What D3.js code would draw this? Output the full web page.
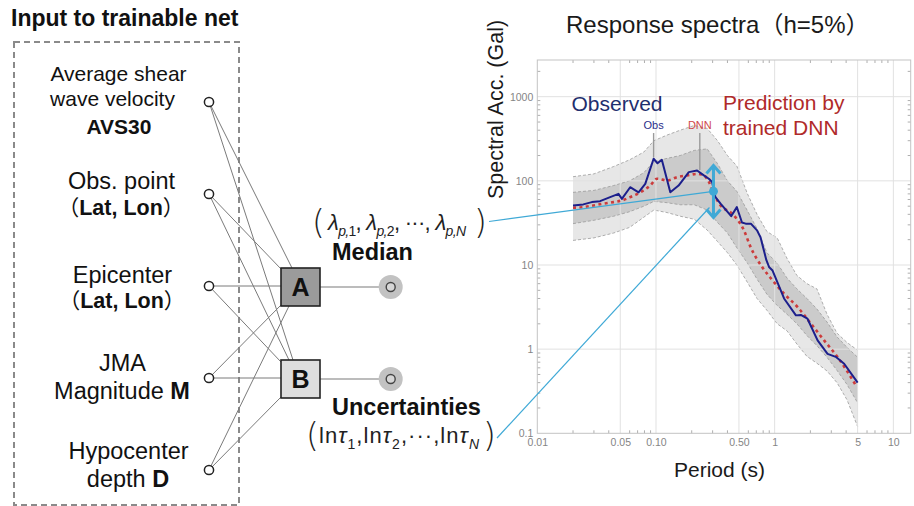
<!DOCTYPE html>
<html>
<head>
<meta charset="utf-8">
<script src="https://cdn.jsdelivr.net/npm/d3@7"></script>
<style>
  body { margin: 0; background: #fff; }
  svg { display: block; font-family: "Liberation Sans", Arial, sans-serif; }
</style>
</head>
<body>
<svg id="fig" width="914" height="506"></svg>
<script>
// ---- diagram data ----
var inputNames = ["avs", "obs", "epi", "jma", "hypo"];
var nodeNames = ["A", "B"];
// which input feeds which box (every input feeds both)
var links = [
  ["avs", "A"], ["avs", "B"], ["obs", "A"], ["obs", "B"], ["epi", "A"],
  ["epi", "B"], ["jma", "A"], ["jma", "B"], ["hypo", "A"], ["hypo", "B"]
];

// ---- chart data (period in s, spectral acc. in Gal) ----
var obsPeriod = [0.02, 0.0244, 0.0288, 0.0338, 0.0411, 0.0483, 0.0516, 0.0606, 0.0713, 0.0812,
  0.0955, 0.103, 0.112, 0.132, 0.155, 0.189, 0.222, 0.253, 0.279, 0.297, 0.317, 0.35, 0.43,
  0.48, 0.53, 0.57, 0.63, 0.71, 0.76, 0.85, 0.9, 0.96, 1.2, 1.51, 1.66, 1.89, 2.3, 2.79,
  3.27, 3.85, 5.0];
var obsSA = [51, 52.5, 55.9, 57.4, 64, 70, 61, 84, 73, 92,
  183, 162, 178, 73, 88, 127, 133, 116, 106, 97, 64, 53.5, 38,
  48.7, 32, 31, 31, 25.8, 21.4, 11.5, 9.4, 8.6, 4.0, 2.52, 2.55, 2.3, 1.27, 0.88,
  0.81, 0.67, 0.40];

var dnnPeriod = [0.02, 0.0244, 0.0297, 0.0361, 0.0438, 0.0516, 0.0606, 0.0736, 0.0895, 0.102,
  0.124, 0.151, 0.183, 0.222, 0.253, 0.279, 0.307, 0.35, 0.439, 0.551, 0.627, 0.787, 0.957,
  1.2, 1.56, 2.02, 2.61, 3.39, 4.84];
var dnnSA = [48, 48.7, 51, 53.5, 55.9, 58.5, 64, 73, 88, 106,
  101, 111, 116, 121, 116, 97, 70, 51, 40.6, 25.8, 16.3, 9.4, 6.6,
  4.56, 3.16, 2.01, 1.27, 0.805, 0.37];

var bandPeriod = [0.02, 0.03, 0.044, 0.06, 0.079, 0.096, 0.124, 0.16, 0.21, 0.27, 0.33, 0.4,
  0.48, 0.59, 0.71, 0.86, 1.05, 1.27, 1.54, 1.87, 2.27, 2.76, 3.35, 4.07, 5];
var upper2 = [112, 121, 148, 178, 220, 300, 350, 400, 455, 420, 300, 200,
  150, 70, 40, 25, 21, 12, 7.5, 6, 5.2, 2.6, 1.55, 1.2, 0.97];
var upper1 = [73, 77, 88, 100, 125, 170, 185, 200, 230, 240, 160, 100,
  75, 44, 27, 14, 10.5, 7, 5.2, 4.0, 3.0, 2.1, 1.4, 1.05, 0.8];
var lower1 = [31, 34, 38, 43, 50, 57, 55, 52, 52, 45, 32, 24,
  16, 10.5, 6.8, 4.5, 3.3, 2.6, 2.0, 1.45, 1.1, 0.8, 0.56, 0.38, 0.23];
var lower2 = [19.6, 21, 24, 28, 37, 45, 42, 38, 35, 26, 19, 14,
  10, 6.2, 4.0, 2.9, 2.0, 1.65, 1.15, 0.82, 0.68, 0.55, 0.4, 0.25, 0.12];

var markerLabels = ["Obs", "DNN"];
var markerPeriod = [0.0955, 0.234];
var markerTopSA = [370, 370];
var markerBottomSA = [190, 135];

var xTickValues = [0.01, 0.05, 0.1, 0.5, 1, 5, 10];
var xTickLabels = ["0.01", "0.05", "0.10", "0.50", "1", "5", "10"];
var yTickValues = [0.1, 1, 10, 100, 1000];
var yTickLabels = ["0.1", "1", "10", "100", "1000"];
var xGrid = [0.05, 0.1, 0.5, 1, 5, 10];
var yGrid = [1, 10, 100, 1000];

// highlighted period with its median and spread
var focusPeriod = 0.305;
var focusSA = [36.7, 75, 152];

var svg = d3.select("#fig");
var cyan = "#3fa9d6";

// ================= left diagram =================
var diag = svg.append("g");

diag.append("text")
  .attr("x", 11).attr("y", 26)
  .attr("font-size", "23px").attr("font-weight", "bold")
  .attr("fill", "#111")
  .text("Input to trainable net");

diag.append("rect")
  .attr("x", 14).attr("y", 42).attr("width", 225).attr("height", 463)
  .attr("fill", "none").attr("stroke", "#8a8a8a")
  .attr("stroke-width", 2).attr("stroke-dasharray", "6,4");

var yIn = d3.scalePoint().domain(inputNames).range([102, 470]);
var xIn = 209;
var boxY = {A: 268, B: 360};
var boxX = 281, boxW = 39, boxH = 38;
var outX = 390.7;

// end point on the boxes for each link
var linkEnd = {
  "avs-A": [292, 268], "avs-B": [293, 360],
  "obs-A": [281, 269], "obs-B": [289, 360],
  "epi-A": [281, 286], "epi-B": [281, 362],
  "jma-A": [281, 305], "jma-B": [281, 378],
  "hypo-A": [289, 306], "hypo-B": [281, 397]
};

diag.selectAll(".link")
  .data(links)
  .enter().append("line")
    .attr("class", "link")
    .attr("x1", xIn).attr("y1", function(d) { return yIn(d[0]); })
    .attr("x2", function(d) { return linkEnd[d[0] + "-" + d[1]][0]; })
    .attr("y2", function(d) { return linkEnd[d[0] + "-" + d[1]][1]; })
    .attr("stroke", "#7a7a7a").attr("stroke-width", 1);

// box -> output lines
diag.selectAll(".outlink")
  .data(nodeNames)
  .enter().append("line")
    .attr("x1", boxX + boxW).attr("x2", outX)
    .attr("y1", function(d) { return boxY[d] + boxH / 2; })
    .attr("y2", function(d) { return boxY[d] + boxH / 2; })
    .attr("stroke", "#7a7a7a").attr("stroke-width", 1.2);

diag.selectAll(".box")
  .data(nodeNames)
  .enter().append("rect")
    .attr("x", boxX).attr("y", function(d) { return boxY[d]; })
    .attr("width", boxW).attr("height", boxH)
    .attr("fill", function(d) { return d == "A" ? "#9b9b9b" : "#dedede"; })
    .attr("stroke", "#222").attr("stroke-width", 1.6);

diag.selectAll(".boxlabel")
  .data(nodeNames)
  .enter().append("text")
    .attr("x", boxX + boxW / 2).attr("y", function(d) { return boxY[d] + 28; })
    .attr("text-anchor", "middle")
    .attr("font-size", "25px").attr("font-weight", "bold").attr("fill", "#111")
    .text(function(d) { return d; });

// output nodes
diag.selectAll(".halo")
  .data(nodeNames)
  .enter().append("circle")
    .attr("cx", outX).attr("cy", function(d) { return boxY[d] + boxH / 2; })
    .attr("r", 12).attr("fill", "#c2c2c2");
diag.selectAll(".outnode")
  .data(nodeNames)
  .enter().append("circle")
    .attr("cx", outX).attr("cy", function(d) { return boxY[d] + boxH / 2; })
    .attr("r", 4.5).attr("fill", "#d6d6d6")
    .attr("stroke", "#444").attr("stroke-width", 1.4);

// input nodes
diag.selectAll(".innode")
  .data(inputNames)
  .enter().append("circle")
    .attr("cx", xIn).attr("cy", function(d) { return yIn(d); })
    .attr("r", 4.6).attr("fill", "#fff")
    .attr("stroke", "#222").attr("stroke-width", 1.5);

// input labels: each line is a list of [text, bold]
var inputText = {
  avs:  [[["Average shear", 0]], [["wave velocity", 0]], [["AVS30", 1]]],
  obs:  [[["Obs. point", 0]], [["（", 0], ["Lat, Lon", 1], ["）", 0]]],
  epi:  [[["Epicenter", 0]], [["（", 0], ["Lat, Lon", 1], ["）", 0]]],
  jma:  [[["JMA", 0]], [["Magnitude ", 0], ["M", 1]]],
  hypo: [[["Hypocenter", 0]], [["depth ", 0], ["D", 1]]]
};
var lineLayout = {
  avs:  {x: [118.5, 112.5, 119], dy: [-21, 4, 31.5], size: [21, 21, 21]},
  obs:  {x: [121.5, 121], dy: [-5, 21], size: [23.5, 21.5]},
  epi:  {x: [122.5, 122], dy: [-3.5, 22], size: [23.5, 21.5]},
  jma:  {x: [122.5, 122], dy: [-7.5, 21], size: [23.5, 23.5]},
  hypo: {x: [128.5, 128], dy: [-11, 16.5], size: [23.5, 23.5]}
};

inputNames.forEach(function(name) {
  var lay = lineLayout[name];
  inputText[name].forEach(function(line, i) {
    var t = diag.append("text")
      .attr("x", lay.x[i]).attr("y", yIn(name) + lay.dy[i])
      .attr("text-anchor", "middle")
      .attr("font-size", lay.size[i] + "px").attr("fill", "#111");
    line.forEach(function(seg) {
      var s = t.append("tspan")
        .attr("font-weight", seg[1] ? "bold" : "normal")
        .text(seg[0]);
      if (seg[0] == "（" || seg[0] == "）") s.attr("font-family", "Noto Sans CJK JP");
    });
  });
});

// output labels
function bigParen(x, yb, ch) {
  diag.append("text")
    .attr("x", x).attr("y", yb)
    .attr("font-family", "DejaVu Sans").attr("font-weight", 200)
    .attr("font-size", "33px").attr("fill", "#222")
    .text(ch);
}

bigParen(312, 234, "(");
var lam = diag.append("text")
  .attr("x", 328).attr("y", 230)
  .attr("font-size", "22px").attr("fill", "#222")
  .attr("textLength", 138).attr("lengthAdjust", "spacing");
["1", "2", "N"].forEach(function(k, i) {
  lam.append("tspan").attr("font-style", "italic").text("λ");
  lam.append("tspan").attr("dy", 6).attr("font-size", "14px").attr("font-style", "italic").text("p,");
  lam.append("tspan").attr("font-size", "14px").attr("font-style", k == "N" ? "italic" : "normal").text(k);
  lam.append("tspan").attr("dy", -6).text(i < 2 ? ", " : "");
  if (i == 1) lam.append("tspan").text("···, ");
});
bigParen(474, 234, ")");

diag.append("text")
  .attr("x", 332).attr("y", 260)
  .attr("font-size", "23.5px").attr("font-weight", "bold").attr("fill", "#111")
  .text("Median");

diag.append("text")
  .attr("x", 332).attr("y", 415)
  .attr("font-size", "23.5px").attr("font-weight", "bold").attr("fill", "#111")
  .text("Uncertainties");

bigParen(306, 447, "(");
var lnt = diag.append("text")
  .attr("x", 319).attr("y", 443)
  .attr("font-size", "22px").attr("fill", "#222")
  .attr("textLength", 160).attr("lengthAdjust", "spacing");
["1", "2", "N"].forEach(function(k, i) {
  lnt.append("tspan").text("ln");
  lnt.append("tspan").attr("font-style", "italic").text("τ");
  lnt.append("tspan").attr("dy", 6).attr("font-size", "14px")
    .attr("font-style", k == "N" ? "italic" : "normal").text(k);
  lnt.append("tspan").attr("dy", -6).text(i < 2 ? "," : "");
  if (i == 1) lnt.append("tspan").text("···,");
});
bigParen(483, 447, ")");

// ================= right chart =================
var margin = {top: 60, right: 3.3, bottom: 72.7, left: 537.3};
var width = 914 - margin.left - margin.right,
    height = 506 - margin.top - margin.bottom;

var x = d3.scaleLog().domain([0.01, 14]).range([margin.left, margin.left + width]);
var y = d3.scaleLog().domain([0.1, 2730]).range([margin.top + height, margin.top]);

var chart = svg.append("g");

// title and axis titles
chart.append("text")
  .attr("x", 566).attr("y", 33)
  .attr("font-size", "24px").attr("fill", "#1a1a1a")
  .html("Response spectra<tspan font-family='Noto Sans CJK JP'>（</tspan>h=5%<tspan font-family='Noto Sans CJK JP'>）</tspan>");

chart.append("text")
  .attr("transform", "translate(503," + 109.5 + ")rotate(-90)")
  .attr("text-anchor", "middle")
  .attr("font-size", "21.5px").attr("fill", "#1a1a1a")
  .text("Spectral Acc.  (Gal)");

chart.append("text")
  .attr("x", 719.5).attr("y", 477)
  .attr("text-anchor", "middle")
  .attr("font-size", "21px").attr("fill", "#1a1a1a")
  .text("Period (s)");

// bands
var band2 = bandPeriod.map(function(p, i) { return {p: p, lo: lower2[i], hi: upper2[i]}; });
var band1 = bandPeriod.map(function(p, i) { return {p: p, lo: lower1[i], hi: upper1[i]}; });

var area = d3.area()
  .x(function(d) { return x(d.p); })
  .y0(function(d) { return y(d.lo); })
  .y1(function(d) { return y(d.hi); });

chart.append("path").datum(band2).attr("d", area).attr("fill", "#e7e7e7");
chart.append("path").datum(band1).attr("d", area).attr("fill", "#cbcbcb");

var edge = d3.line()
  .x(function(d) { return x(d[0]); })
  .y(function(d) { return y(d[1]); });

[upper2, upper1, lower1, lower2].forEach(function(vals) {
  chart.append("path")
    .datum(bandPeriod.map(function(p, i) { return [p, vals[i]]; }))
    .attr("d", edge)
    .attr("fill", "none").attr("stroke", "#9a9a9a")
    .attr("stroke-width", 0.8).attr("stroke-dasharray", "3,2");
});

// grid lines, drawn over the bands
chart.selectAll(".xgrid")
  .data(xGrid)
  .enter().append("line")
    .attr("x1", function(d) { return x(d); }).attr("x2", function(d) { return x(d); })
    .attr("y1", margin.top).attr("y2", margin.top + height)
    .attr("stroke", "#e1e1e1").attr("stroke-width", 1);
chart.selectAll(".ygrid")
  .data(yGrid)
  .enter().append("line")
    .attr("y1", function(d) { return y(d); }).attr("y2", function(d) { return y(d); })
    .attr("x1", margin.left).attr("x2", margin.left + width)
    .attr("stroke", "#e1e1e1").attr("stroke-width", 1);

// minor ticks on the frame
var xMinor = x.ticks().filter(function(d) { return xTickValues.indexOf(d) < 0; });
var yMinor = y.ticks().filter(function(d) { return yTickValues.indexOf(d) < 0; });
[margin.top + height, margin.top].forEach(function(yy, k) {
  chart.selectAll(".xminor" + k)
    .data(xMinor)
    .enter().append("line")
      .attr("x1", function(d) { return x(d); }).attr("x2", function(d) { return x(d); })
      .attr("y1", yy).attr("y2", k ? yy + 3 : yy - 3)
      .attr("stroke", "#999").attr("stroke-width", 0.8);
});
[margin.left, margin.left + width].forEach(function(xx, k) {
  chart.selectAll(".yminor" + k)
    .data(yMinor)
    .enter().append("line")
      .attr("y1", function(d) { return y(d); }).attr("y2", function(d) { return y(d); })
      .attr("x1", xx).attr("x2", k ? xx - 3 : xx + 3)
      .attr("stroke", "#999").attr("stroke-width", 0.8);
});

// frame
chart.append("rect")
  .attr("x", margin.left).attr("y", margin.top)
  .attr("width", width).attr("height", height)
  .attr("fill", "none").attr("stroke", "#c4c4c4").attr("stroke-width", 1);

// axes
var xAxis = chart.append("g")
  .attr("transform", "translate(0," + (margin.top + height) + ")")
  .call(d3.axisBottom(x).tickValues(xTickValues)
    .tickFormat(function(d, i) { return xTickLabels[i]; })
    .tickSize(0).tickPadding(5.5));
var yAxis = chart.append("g")
  .attr("transform", "translate(" + margin.left + ",0)")
  .call(d3.axisLeft(y).tickValues(yTickValues)
    .tickFormat(function(d, i) { return yTickLabels[i]; })
    .tickSize(0).tickPadding(4));
[xAxis, yAxis].forEach(function(a) {
  a.select(".domain").remove();
  a.selectAll("text")
    .attr("font-family", "Liberation Sans, Arial, sans-serif")
    .attr("font-size", "10.5px").attr("fill", "#858585");
});

// Obs / DNN pointer lines
chart.selectAll(".marker")
  .data(markerLabels)
  .enter().append("line")
    .attr("x1", function(d, i) { return x(markerPeriod[i]); })
    .attr("x2", function(d, i) { return x(markerPeriod[i]); })
    .attr("y1", function(d, i) { return y(markerTopSA[i]); })
    .attr("y2", function(d, i) { return y(markerBottomSA[i]); })
    .attr("stroke", "#9a9a9a").attr("stroke-width", 1.4);
chart.selectAll(".markerlabel")
  .data(markerLabels)
  .enter().append("text")
    .attr("x", function(d, i) { return x(markerPeriod[i]); })
    .attr("y", 128.5)
    .attr("text-anchor", "middle").attr("font-size", "11px")
    .attr("fill", function(d, i) { return i ? "#cf4a4a" : "#2a2f8a"; })
    .text(function(d) { return d; });

// series
var line = d3.line()
  .x(function(d) { return x(d[0]); })
  .y(function(d) { return y(d[1]); });

chart.append("path")
  .datum(dnnPeriod.map(function(p, i) { return [p, dnnSA[i]]; }))
  .attr("d", line.curve(d3.curveMonotoneX))
  .attr("fill", "none").attr("stroke", "#cc3b3b")
  .attr("stroke-width", 2.6).attr("stroke-dasharray", "3,3.4");

chart.append("path")
  .datum(obsPeriod.map(function(p, i) { return [p, obsSA[i]]; }))
  .attr("d", d3.line().x(function(d) { return x(d[0]); }).y(function(d) { return y(d[1]); }))
  .attr("fill", "none").attr("stroke", "#1c1f8c")
  .attr("stroke-width", 2).attr("stroke-linejoin", "round");

// legend texts
chart.append("text")
  .attr("x", 571.5).attr("y", 111)
  .attr("font-size", "21px").attr("fill", "#1f2f6e")
  .text("Observed");
chart.append("text")
  .attr("x", 723).attr("y", 110)
  .attr("font-size", "21px").attr("fill", "#b02a2a")
  .text("Prediction by");
chart.append("text")
  .attr("x", 723).attr("y", 134.5)
  .attr("font-size", "21px").attr("fill", "#b02a2a")
  .text("trained DNN");

// ================= cyan annotation =================
var fx = x(focusPeriod);
chart.append("line")
  .attr("x1", 489).attr("y1", 221.5)
  .attr("x2", fx).attr("y2", y(focusSA[1]))
  .attr("stroke", cyan).attr("stroke-width", 1.2);
chart.append("line")
  .attr("x1", 497).attr("y1", 438)
  .attr("x2", fx - 4).attr("y2", y(focusSA[0]) - 10)
  .attr("stroke", cyan).attr("stroke-width", 1.2);
chart.append("line")
  .attr("x1", fx).attr("x2", fx)
  .attr("y1", y(focusSA[2])).attr("y2", y(focusSA[0]))
  .attr("stroke", cyan).attr("stroke-width", 3);
[[focusSA[2], 1], [focusSA[0], -1]].forEach(function(a) {
  var yy = y(a[0]);
  chart.append("path")
    .attr("d", "M" + (fx - 7) + "," + (yy + 8 * a[1]) + "L" + fx + "," + yy + "L" + (fx + 7) + "," + (yy + 8 * a[1]))
    .attr("fill", "none").attr("stroke", cyan).attr("stroke-width", 3)
    .attr("stroke-linejoin", "miter");
});
chart.append("circle")
  .attr("cx", fx).attr("cy", y(focusSA[1]))
  .attr("r", 4.5).attr("fill", cyan);
</script>
</body>
</html>
